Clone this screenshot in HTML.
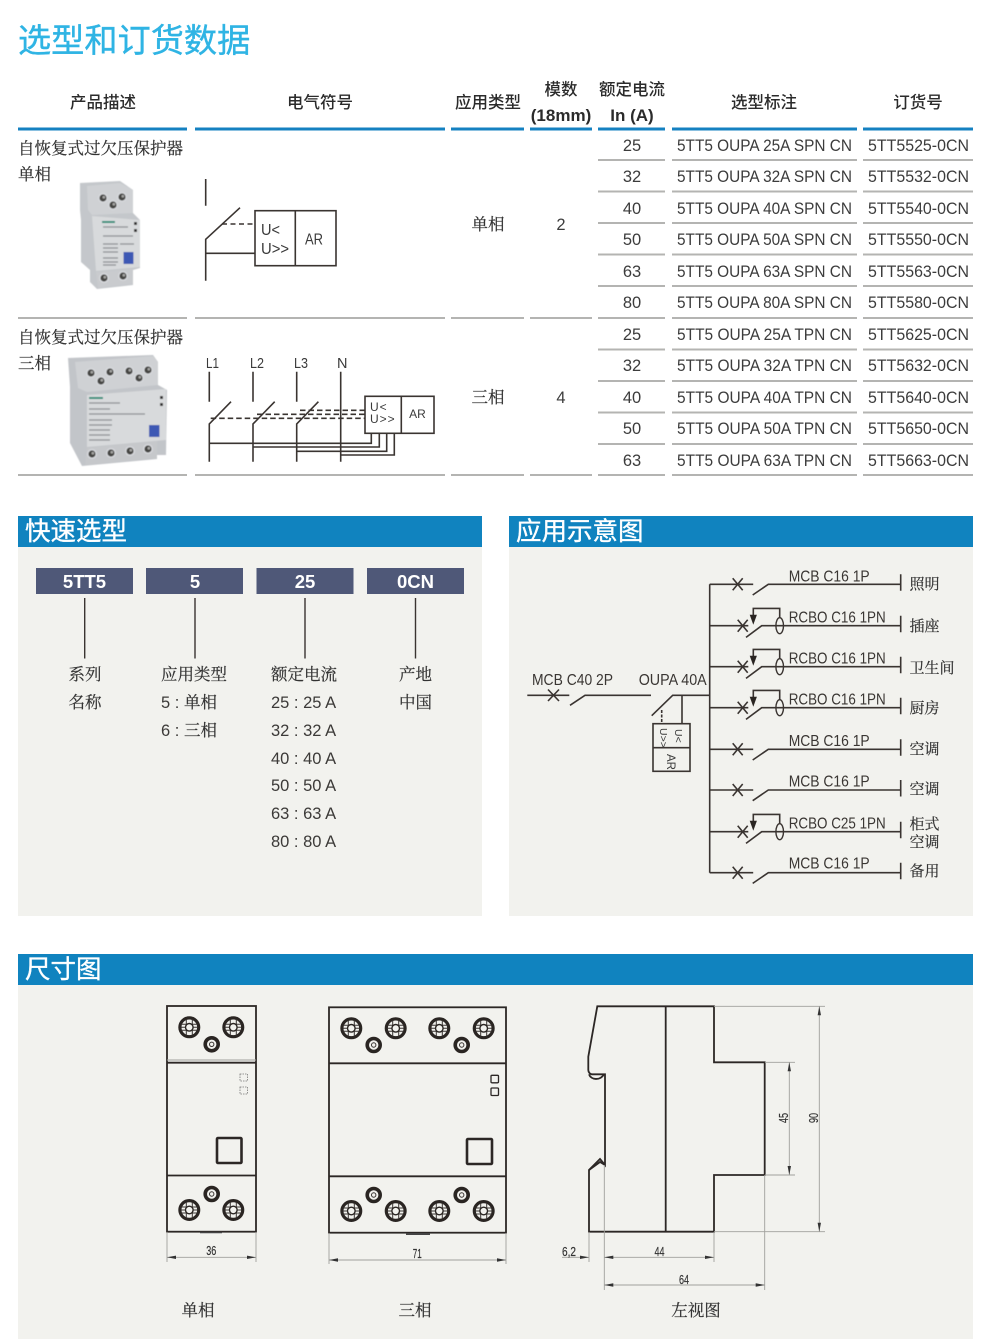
<!DOCTYPE html>
<html><head><meta charset="utf-8"><style>
html,body{margin:0;padding:0;background:#fff}
svg{display:block}
text{font-family:"Liberation Sans","Noto Sans CJK SC",sans-serif;fill:#3a3a3a}
.s{font-family:"Liberation Serif","Noto Serif CJK SC",serif;fill:#333;font-size:16.5px;stroke:#333;stroke-width:.2}
.h{font-family:"Liberation Sans","Noto Sans CJK SC",sans-serif;font-size:16.5px;font-weight:500;fill:#2b2b2b;text-anchor:middle}
.hb{font-weight:700;font-size:17px}
.m{text-anchor:middle}
.r{font-size:16.5px;fill:#3c3c3c}
.pt{font-size:25.5px;fill:#fff;stroke:#fff;stroke-width:.35}
.bar{font-size:18.5px;font-weight:700;fill:#fff;text-anchor:middle}
.q{font-size:16.5px;fill:#3c3a38}
.lb{font-size:15.5px;fill:#3a3633}
.d{font-size:13px;fill:#333;stroke:#333;stroke-width:.2}
.l{stroke:#3a3431;stroke-width:1.6;fill:none}
.t{stroke:#2c2725;stroke-width:1.8;fill:none}
.e{stroke:#a0a09c;stroke-width:.9;fill:none}
.g{stroke:#b4b4b2;stroke-width:2}
.b{stroke:#1581c1;stroke-width:3}
</style></head><body>
<svg xmlns="http://www.w3.org/2000/svg" width="990" height="1339" viewBox="0 0 990 1339">
<defs>
<filter id="soft" x="-5%" y="-5%" width="110%" height="110%"><feGaussianBlur stdDeviation=".6"/></filter>
<g id="big"><circle r="9.4" fill="#f2f2ee" stroke="#2a2522" stroke-width="3.2"/><path d="M-8 -3H8M-8 0H8M-8 3H8M-3 -8V8M3 -8V8" stroke="#3a3532" stroke-width="1"/><circle r="3.8" fill="#f2f2ee" stroke="#2a2522" stroke-width="1.4"/></g>
<g id="small"><circle r="6.5" fill="#f2f2ee" stroke="#2a2522" stroke-width="3.6"/><circle r="2.2" fill="none" stroke="#3a3431" stroke-width="1"/></g>
<g id="ph1"><circle r="5" fill="#d8dade"/><circle r="3.6" fill="#454543"/><circle cx=".8" cy="-.8" r="1.3" fill="#a8a8a6"/></g>
<g id="mcb"><path class="l" d="M0 0H43.5M23 -6L33 6M23 6L33 -6M43 10.7L58.6 0H191M191 -10V6.5"/></g>
<g id="rcbo"><path class="l" d="M0 0H38.6M28 -6L38 6M28 6L38 -6M36.3 11.7L52 0H191M191 -10V6.5M43.6 -4V-17.3H70V-8"/><path fill="#2a2522" d="M40 -11H47.2L43.6 -1Z"/><ellipse cx="70" cy="0" rx="3.8" ry="8" fill="none" stroke="#3a3431" stroke-width="1.4"/></g>
<g id="arr"><path d="M0 0L9 -1.7V1.7Z" fill="#333"/></g>
</defs>

<!-- title -->
<text x="18" y="52" font-size="33.2" style="fill:#2fb4e4;stroke:#2fb4e4;stroke-width:.4">选型和订货数据</text>

<!-- table header -->
<text class="h" x="103" y="108">产品描述</text>
<text class="h" x="320" y="108">电气符号</text>
<text class="h" x="488" y="108">应用类型</text>
<text class="h" x="561" y="95">模数</text>
<text class="h hb" x="561" y="121">(18mm)</text>
<text class="h" x="632" y="95">额定电流</text>
<text class="h hb" x="632" y="121">In (A)</text>
<text class="h" x="764" y="108">选型标注</text>
<text class="h" x="918" y="108">订货号</text>
<path class="b" d="M18 129H187M195 129H445M451 129H524M530 129H592M598 129H665M672 129H857M863 129H973"/>

<!-- row rules -->
<path class="g" d="M598 160H665M672 160H857M863 160H973M598 191.500H665M672 191.500H857M863 191.500H973M598 223H665M672 223H857M863 223H973M598 254.500H665M672 254.500H857M863 254.500H973M598 286H665M672 286H857M863 286H973M18 318H187M195 318H445M451 318H524M530 318H592M598 318H665M672 318H857M863 318H973M598 349.500H665M672 349.500H857M863 349.500H973M598 381H665M672 381H857M863 381H973M598 412.500H665M672 412.500H857M863 412.500H973M598 444H665M672 444H857M863 444H973M18 475H187M195 475H445M451 475H524M530 475H592M598 475H665M672 475H857M863 475H973"/>

<!-- rows -->
<g class="r">
<text class="r m" x="632" y="151">25</text><text class="r" x="677" y="151" textLength="175" lengthAdjust="spacingAndGlyphs">5TT5 OUPA 25A SPN CN</text><text class="r" x="868" y="151" textLength="101" lengthAdjust="spacingAndGlyphs">5TT5525-0CN</text>
<text class="r m" x="632" y="182">32</text><text class="r" x="677" y="182" textLength="175" lengthAdjust="spacingAndGlyphs">5TT5 OUPA 32A SPN CN</text><text class="r" x="868" y="182" textLength="101" lengthAdjust="spacingAndGlyphs">5TT5532-0CN</text>
<text class="r m" x="632" y="214">40</text><text class="r" x="677" y="214" textLength="175" lengthAdjust="spacingAndGlyphs">5TT5 OUPA 40A SPN CN</text><text class="r" x="868" y="214" textLength="101" lengthAdjust="spacingAndGlyphs">5TT5540-0CN</text>
<text class="r m" x="632" y="245">50</text><text class="r" x="677" y="245" textLength="175" lengthAdjust="spacingAndGlyphs">5TT5 OUPA 50A SPN CN</text><text class="r" x="868" y="245" textLength="101" lengthAdjust="spacingAndGlyphs">5TT5550-0CN</text>
<text class="r m" x="632" y="277">63</text><text class="r" x="677" y="277" textLength="175" lengthAdjust="spacingAndGlyphs">5TT5 OUPA 63A SPN CN</text><text class="r" x="868" y="277" textLength="101" lengthAdjust="spacingAndGlyphs">5TT5563-0CN</text>
<text class="r m" x="632" y="308">80</text><text class="r" x="677" y="308" textLength="175" lengthAdjust="spacingAndGlyphs">5TT5 OUPA 80A SPN CN</text><text class="r" x="868" y="308" textLength="101" lengthAdjust="spacingAndGlyphs">5TT5580-0CN</text>
<text class="r m" x="632" y="340">25</text><text class="r" x="677" y="340" textLength="175" lengthAdjust="spacingAndGlyphs">5TT5 OUPA 25A TPN CN</text><text class="r" x="868" y="340" textLength="101" lengthAdjust="spacingAndGlyphs">5TT5625-0CN</text>
<text class="r m" x="632" y="371">32</text><text class="r" x="677" y="371" textLength="175" lengthAdjust="spacingAndGlyphs">5TT5 OUPA 32A TPN CN</text><text class="r" x="868" y="371" textLength="101" lengthAdjust="spacingAndGlyphs">5TT5632-0CN</text>
<text class="r m" x="632" y="403">40</text><text class="r" x="677" y="403" textLength="175" lengthAdjust="spacingAndGlyphs">5TT5 OUPA 40A TPN CN</text><text class="r" x="868" y="403" textLength="101" lengthAdjust="spacingAndGlyphs">5TT5640-0CN</text>
<text class="r m" x="632" y="434">50</text><text class="r" x="677" y="434" textLength="175" lengthAdjust="spacingAndGlyphs">5TT5 OUPA 50A TPN CN</text><text class="r" x="868" y="434" textLength="101" lengthAdjust="spacingAndGlyphs">5TT5650-0CN</text>
<text class="r m" x="632" y="466">63</text><text class="r" x="677" y="466" textLength="175" lengthAdjust="spacingAndGlyphs">5TT5 OUPA 63A TPN CN</text><text class="r" x="868" y="466" textLength="101" lengthAdjust="spacingAndGlyphs">5TT5663-0CN</text>
</g>

<!-- left labels -->
<text class="s" x="18" y="154">自恢复式过欠压保护器</text>
<text class="s" x="18" y="180">单相</text>
<text class="s" x="18" y="343">自恢复式过欠压保护器</text>
<text class="s" x="18" y="369">三相</text>
<text class="s m" x="488" y="230">单相</text>
<text class="r m" x="561" y="230">2</text>
<text class="s m" x="488" y="403">三相</text>
<text class="r m" x="561" y="403">4</text>

<!-- product photo 1 -->
<g filter="url(#soft)">
<polygon points="80,183 120,181 133,190 133,213 140,220 140,268 133,270 133,285 97,289 90,282 90,270 81,262 81,220 80,210" fill="#c4c7cb"/>
<polygon points="87,186 120,183 133,190 133,213 92,215 88,210" fill="#cfd1d4"/>
<polygon points="92,216 140,220 140,267 96,271" fill="#d8dadc"/>
<polygon points="96,272 133,269 133,284 98,288" fill="#c9cbce"/>
<use href="#ph1" x="103" y="198"/><use href="#ph1" x="122" y="197"/><use href="#ph1" x="113" y="205"/>
<use href="#ph1" x="104" y="278"/><use href="#ph1" x="123" y="276"/>
<rect x="102" y="221" width="13" height="2" fill="#2a8f7a"/>
<path d="M103 227H128M103 236H133M103 244H118M120 244H134M103 248H118M103 252H118M103 258H118M103 262H118M103 265H116" stroke="#8a8d92" stroke-width="1.3"/>
<rect x="134" y="222" width="3" height="3" fill="#333"/><rect x="134" y="229" width="3" height="3" fill="#333"/>
<rect x="123.500" y="252" width="10" height="12" fill="#3e58b4"/>
</g>

<!-- product photo 2 -->
<g filter="url(#soft)">
<polygon points="68,358 153,355 158,362 158,385 167,390 166,455 157,455 157,459 82,466 70,443 70,387" fill="#c2c5c9"/>
<polygon points="75,362 153,356 158,362 158,385 87,392 78,388" fill="#cfd1d4"/>
<polygon points="87,395 166,389 166,440 87,447" fill="#d8dadc"/>
<polygon points="87,448 157,441 157,458 85,465" fill="#c6c8cb"/>
<use href="#ph1" x="91" y="373"/><use href="#ph1" x="110" y="372"/><use href="#ph1" x="129" y="371"/><use href="#ph1" x="148" y="370"/>
<use href="#ph1" x="101" y="381"/><use href="#ph1" x="139" y="378"/>
<use href="#ph1" x="92" y="454"/><use href="#ph1" x="111" y="453"/><use href="#ph1" x="130" y="451"/><use href="#ph1" x="148" y="449"/>
<rect x="89" y="397" width="14" height="2" fill="#2a8f7a"/>
<path d="M89 403H120M89 409H110M89 414H145M89 420H112M89 425H112M89 430H110M89 435H110M89 440H110" stroke="#8a8d92" stroke-width="1.3"/>
<rect x="160" y="396" width="3" height="3" fill="#333"/><rect x="160" y="403" width="3" height="3" fill="#333"/>
<rect x="149" y="425" width="10.500" height="12" fill="#3e58b4"/>
</g>

<!-- symbol 1 -->
<path class="l" d="M205.700 179V205.700M240 207.700L205.700 239.300V280.700M205.700 253.300H255"/>
<path class="l" d="M222 224H255" stroke-dasharray="5 3.500"/>
<rect class="l" x="255" y="210.700" width="81" height="55"/>
<path class="l" d="M295.300 210.700V265.700"/>
<text x="261" y="235" font-size="16" textLength="19" lengthAdjust="spacingAndGlyphs">U&lt;</text>
<text x="261" y="254" font-size="16" textLength="28" lengthAdjust="spacingAndGlyphs">U&gt;&gt;</text>
<text x="305" y="244.500" font-size="16" textLength="18" lengthAdjust="spacingAndGlyphs">AR</text>

<!-- symbol 2 -->
<text x="206" y="368" font-size="14.500" textLength="13" lengthAdjust="spacingAndGlyphs">L1</text><text x="250" y="368" font-size="14.500" textLength="14" lengthAdjust="spacingAndGlyphs">L2</text><text x="294" y="368" font-size="14.500" textLength="14" lengthAdjust="spacingAndGlyphs">L3</text><text x="337" y="368" font-size="14.500">N</text>
<path class="l" d="M209.300 371.700V401.700M253 371.700V401.700M296.700 371.700V401.700M340.700 371.700V461.700M231 401.700L209.300 424V461.700M274.700 401.700L253 424V461.700M318.400 401.700L296.700 424V461.700"/>
<path class="l" stroke-dasharray="5.500 3" d="M210.700 418.300H365M257 414.300H365M300 410.300H365"/>
<rect class="l" x="365" y="396.300" width="69" height="37"/>
<path class="l" d="M401.300 396.300V433.300M209.300 443.300H371.300V433.300M253 447H379.300V433.300M296.700 451.300H386.700V433.300M340.700 455H394.300V433.300"/>
<text x="370" y="411" font-size="12" letter-spacing="1">U&lt;</text>
<text x="370" y="423" font-size="12" letter-spacing="1">U&gt;&gt;</text>
<text class="m" x="417.500" y="418" font-size="12">AR</text>

<!-- quick select panel -->
<rect x="18" y="516" width="464" height="31" fill="#1083bf"/>
<rect x="18" y="547" width="464" height="369" fill="#f2f2ee"/>
<text class="pt" x="25" y="540">快速选型</text>
<g fill="#4f5878">
<rect x="36" y="568" width="97" height="26"/><rect x="146" y="568" width="97" height="26"/><rect x="256.500" y="568" width="97" height="26"/><rect x="367" y="568" width="97" height="26"/>
</g>
<text class="bar" x="84.500" y="588">5TT5</text><text class="bar" x="195" y="588">5</text><text class="bar" x="305" y="588">25</text><text class="bar" x="415.500" y="588">0CN</text>
<path d="M84.700 598V658.500M195 598V658.500M305 598V658.500M415.500 598V658.500" stroke="#3a3431" stroke-width="1.400"/>
<text class="s m" x="85" y="680">系列</text><text class="s m" x="85" y="708">名称</text>
<text class="s" x="161" y="680">应用类型</text>
<text class="q" x="161" y="708">5 : </text><text class="s" x="184" y="708">单相</text>
<text class="q" x="161" y="736">6 : </text><text class="s" x="184" y="736">三相</text>
<text class="s" x="271" y="680">额定电流</text>
<text class="q" x="271" y="708">25 : 25 A</text>
<text class="q" x="271" y="736">32 : 32 A</text>
<text class="q" x="271" y="764">40 : 40 A</text>
<text class="q" x="271" y="791">50 : 50 A</text>
<text class="q" x="271" y="819">63 : 63 A</text>
<text class="q" x="271" y="847">80 : 80 A</text>
<text class="s m" x="415.500" y="680">产地</text><text class="s m" x="415.500" y="708">中国</text>

<!-- application panel -->
<rect x="509" y="516" width="464" height="31" fill="#1083bf"/>
<rect x="509" y="547" width="464" height="369" fill="#f2f2ee"/>
<text class="pt" x="516" y="540">应用示意图</text>
<path class="l" d="M527.300 695.300H569.300M548 689.500L559 701M548 701L559 689.500M570 705.300L585 695.300H651M651.700 715.700L672.700 695.300H709.700M682 695.300V723.700M709.700 584.300V872.700"/>
<path class="l" stroke-dasharray="3 1.500" d="M661.700 710V723.700"/>
<rect class="l" x="653" y="723.700" width="37" height="47.600"/>
<path class="l" d="M653 747.700H690"/>
<text transform="translate(675,729) rotate(90)" font-size="10.500">U&lt;</text>
<text transform="translate(660,728) rotate(90)" font-size="10.500">U&gt;&gt;</text>
<text transform="translate(667,754) rotate(90)" font-size="11.500">AR</text>
<text class="lb" x="532" y="685" textLength="81" lengthAdjust="spacingAndGlyphs">MCB C40 2P</text>
<text class="lb" x="638.700" y="685" textLength="68" lengthAdjust="spacingAndGlyphs">OUPA 40A</text>
<use href="#mcb" x="709.700" y="584.300"/>
<use href="#rcbo" x="709.700" y="625.700"/>
<use href="#rcbo" x="709.700" y="666.700"/>
<use href="#rcbo" x="709.700" y="707.700"/>
<use href="#mcb" x="709.700" y="749.300"/>
<use href="#mcb" x="709.700" y="790"/>
<use href="#rcbo" x="709.700" y="831.700"/>
<use href="#mcb" x="709.700" y="872.700"/>
<text class="lb" x="788.700" y="581.500" textLength="81" lengthAdjust="spacingAndGlyphs">MCB C16 1P</text>
<text class="lb" x="788.700" y="622.700" textLength="97" lengthAdjust="spacingAndGlyphs">RCBO C16 1PN</text>
<text class="lb" x="788.700" y="663.700" textLength="97" lengthAdjust="spacingAndGlyphs">RCBO C16 1PN</text>
<text class="lb" x="788.700" y="704.700" textLength="97" lengthAdjust="spacingAndGlyphs">RCBO C16 1PN</text>
<text class="lb" x="788.700" y="746" textLength="81" lengthAdjust="spacingAndGlyphs">MCB C16 1P</text>
<text class="lb" x="788.700" y="786.500" textLength="81" lengthAdjust="spacingAndGlyphs">MCB C16 1P</text>
<text class="lb" x="788.700" y="828.700" textLength="97" lengthAdjust="spacingAndGlyphs">RCBO C25 1PN</text>
<text class="lb" x="788.700" y="868.500" textLength="81" lengthAdjust="spacingAndGlyphs">MCB C16 1P</text>
<text class="s" style="font-size:15px" x="909.500" y="589">照明</text>
<text class="s" style="font-size:15px" x="909.500" y="631">插座</text>
<text class="s" style="font-size:15px" x="909.500" y="673">卫生间</text>
<text class="s" style="font-size:15px" x="909.500" y="713">厨房</text>
<text class="s" style="font-size:15px" x="909.500" y="754">空调</text>
<text class="s" style="font-size:15px" x="909.500" y="794">空调</text>
<text class="s" style="font-size:15px" x="909.500" y="829">柜式</text>
<text class="s" style="font-size:15px" x="909.500" y="847">空调</text>
<text class="s" style="font-size:15px" x="909.500" y="876">备用</text>

<!-- dimensions panel -->
<rect x="18" y="954" width="955" height="31" fill="#1083bf"/>
<rect x="18" y="985" width="955" height="354" fill="#f2f2ee"/>
<text class="pt" x="25" y="978">尺寸图</text>

<!-- front 1 -->
<rect class="t" x="167" y="1006" width="89" height="225.700"/>
<path class="t" d="M167 1062.700H256M167 1175.500H256"/>
<path d="M167 1060H256" stroke="#a0a09c" stroke-width="1"/>
<use href="#big" x="189.300" y="1027.300"/><use href="#big" x="233.300" y="1027.300"/><use href="#small" x="211.700" y="1044.300"/>
<use href="#small" x="211.700" y="1194"/><use href="#big" x="189.300" y="1210"/><use href="#big" x="233.300" y="1210"/>
<path stroke="#777" stroke-width=".8" stroke-dasharray="1.500 1" fill="none" d="M240 1074H247.500V1081H240ZM240 1087H247.500V1094H240Z"/>
<rect x="217" y="1138" width="24.500" height="25" rx="1" fill="none" stroke="#2c2725" stroke-width="2.600"/>
<path d="M200 1232.500H222" stroke="#444" stroke-width="1.500"/>
<path class="e" d="M167 1232V1262M256 1232V1262M167 1257.300H256"/>
<use href="#arr" x="167" y="1257.300"/><use href="#arr" transform="translate(256,1257.300) rotate(180)"/>
<text class="d m" x="211.300" y="1255" textLength="10" lengthAdjust="spacingAndGlyphs">36</text>

<!-- front 2 -->
<rect class="t" x="329" y="1007.300" width="177" height="225.400"/>
<path class="t" d="M329 1063.300H506M329 1176.300H506"/>
<use href="#big" x="351.300" y="1028.300"/><use href="#big" x="395.700" y="1028.300"/><use href="#big" x="439.300" y="1028.300"/><use href="#big" x="483.700" y="1028.300"/>
<use href="#small" x="373.700" y="1045"/><use href="#small" x="461.700" y="1045"/>
<use href="#small" x="373.700" y="1195"/><use href="#small" x="461.700" y="1195"/>
<use href="#big" x="351.300" y="1211"/><use href="#big" x="395.700" y="1211"/><use href="#big" x="439.300" y="1211"/><use href="#big" x="483.700" y="1211"/>
<rect x="491" y="1075.300" width="7.500" height="7.500" rx="1" fill="none" stroke="#2c2725" stroke-width="1.300"/>
<rect x="491" y="1088" width="7.500" height="7.500" rx="1" fill="none" stroke="#2c2725" stroke-width="1.300"/>
<rect x="467" y="1139" width="25" height="25" rx="1" fill="none" stroke="#2c2725" stroke-width="2.600"/>
<path d="M406 1234H430" stroke="#444" stroke-width="2"/>
<path class="e" d="M329 1233V1264M506 1233V1264M329 1260H506"/>
<use href="#arr" x="329" y="1260"/><use href="#arr" transform="translate(506,1260) rotate(180)"/>
<text class="d m" x="417.300" y="1258" textLength="9" lengthAdjust="spacingAndGlyphs">71</text>

<!-- side view -->
<path class="t" d="M597.300 1006.300H714V1062.300H764.700V1175H714V1231.700H589V1170L600 1159L605 1165V1074.300H592C590 1074.300 588.300 1072 588.300 1070V1056.700Z"/>
<path class="t" d="M589 1074.300C591 1080 600 1081 604 1074.300M589 1170L600 1162L605 1165"/>
<path class="t" d="M665.700 1006.300V1231.700"/>
<path class="e" d="M714 1006.300H825M714 1231.700H825M819.300 1006.300V1231.700M765 1062.300H795M765 1175H795M789.300 1062.300V1175M589 1232V1262M604.300 1165V1290M714 1232V1262M764.700 1175V1290M562 1257.300H589M604.300 1257.300H714M604.300 1285H764.700"/>
<use href="#arr" transform="translate(819.300,1006.300) rotate(90)"/><use href="#arr" transform="translate(819.300,1231.700) rotate(-90)"/>
<use href="#arr" transform="translate(789.300,1062.300) rotate(90)"/><use href="#arr" transform="translate(789.300,1175) rotate(-90)"/>
<use href="#arr" transform="translate(589,1257.300) rotate(180)"/><use href="#arr" x="604.300" y="1257.300"/>
<use href="#arr" transform="translate(714,1257.300) rotate(180)"/>
<use href="#arr" x="604.300" y="1285"/><use href="#arr" transform="translate(764.700,1285) rotate(180)"/>
<text class="d" transform="translate(788,1118) rotate(-90)" text-anchor="middle" textLength="10" lengthAdjust="spacingAndGlyphs">45</text>
<text class="d" transform="translate(818,1118) rotate(-90)" text-anchor="middle" textLength="10" lengthAdjust="spacingAndGlyphs">90</text>
<text class="d" x="562" y="1256" textLength="14" lengthAdjust="spacingAndGlyphs">6,2</text>
<text class="d m" x="659.500" y="1256" textLength="10" lengthAdjust="spacingAndGlyphs">44</text>
<text class="d m" x="684" y="1284" textLength="10" lengthAdjust="spacingAndGlyphs">64</text>

<text class="s m" x="198" y="1316">单相</text>
<text class="s m" x="415" y="1316">三相</text>
<text class="s m" x="696" y="1316">左视图</text>
</svg>
</body></html>
